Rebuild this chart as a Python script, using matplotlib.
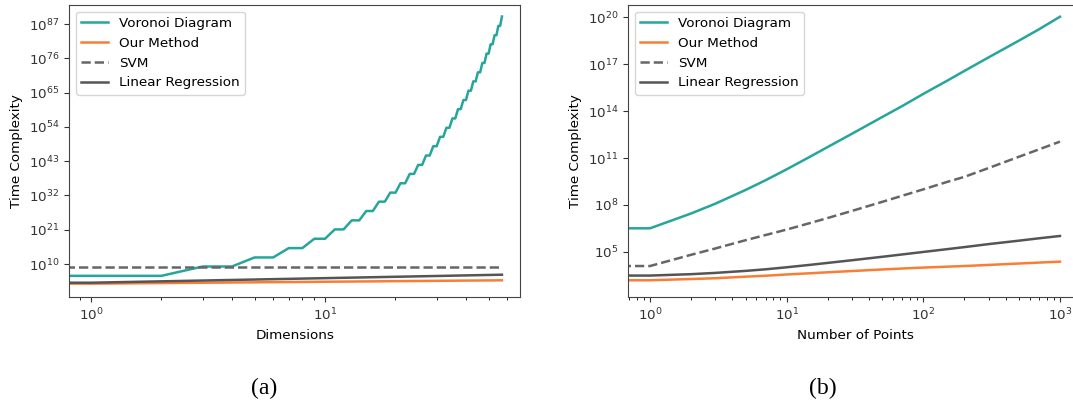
import matplotlib
matplotlib.use("Agg")
import matplotlib.pyplot as plt
from matplotlib.ticker import NullLocator

# ---------------- data (log10 of time complexity) ----------------
# Panel (a): x = dimensions
dims = list(range(0, 58))
voronoi_a_log = [6.2, 6.2, 6.2,
                 9.2, 9.2, 12.1, 12.1, 15.1, 15.1, 18.1, 18.1, 21.1, 21.1,
                 24.0, 24.0, 27.0, 27.0, 30.0, 30.0, 32.9, 32.9, 35.9, 35.9,
                 38.9, 38.9, 41.8, 41.8, 44.8, 44.8, 47.8, 47.8, 50.8, 50.8,
                 53.7, 53.7, 56.7, 56.7, 59.7, 59.7, 62.6, 62.6, 65.6, 65.6,
                 68.6, 68.6, 71.5, 71.5, 74.5, 74.5, 77.5, 77.5, 80.5, 80.5,
                 83.4, 83.4, 86.4, 86.4, 89.4]
dims_sparse = [0, 1, 2, 4, 8, 16, 32, 57]
ours_a_log = [3.7, 3.7, 3.88, 4.07, 4.25, 4.43, 4.62, 4.77]
svm_a_log = [9.04, 9.04, 9.04, 9.04, 9.04, 9.04, 9.04, 9.04]
linreg_a_log = [4.0, 4.0, 4.44, 4.88, 5.32, 5.76, 6.2, 6.57]

# Panel (b): x = number of points
points = [0, 1, 2, 3, 5, 7, 10, 15, 20, 30, 50, 70, 100, 150, 200, 300, 500, 700, 1000]
voronoi_b_log = [6.51, 6.51, 7.46, 8.08, 8.96, 9.58, 10.28, 11.11, 11.71, 12.55, 13.62,
                 14.32, 15.1, 15.95, 16.57, 17.43, 18.5, 19.22, 20.03]
ours_b_log = [3.19, 3.19, 3.27, 3.32, 3.42, 3.48, 3.56, 3.64, 3.7, 3.78, 3.88,
              3.94, 4.0, 4.06, 4.1, 4.17, 4.26, 4.32, 4.38]
svm_b_log = [4.1, 4.1, 4.82, 5.22, 5.75, 6.08, 6.43, 6.86, 7.17, 7.62, 8.2,
             8.59, 9.0, 9.48, 9.8, 10.36, 11.08, 11.55, 12.05]
linreg_b_log = [3.49, 3.49, 3.58, 3.66, 3.79, 3.89, 4.02, 4.18, 4.3, 4.47, 4.69,
                4.84, 5.0, 5.18, 5.31, 5.5, 5.72, 5.87, 6.02]

labels = ["Voronoi Diagram", "Our Method", "SVM", "Linear Regression"]
yticks_a = [10, 21, 32, 43, 54, 65, 76, 87]
yticks_b = [5, 8, 11, 14, 17, 20]

# ---------------- styling ----------------
C_TEAL = "#26a69a"
C_ORANGE = "#fb7d35"
C_SVM = "#666666"
C_LR = "#555555"
FS = 9.7
LW = 1.8

plt.rcParams["font.family"] = ["DejaVu Sans"]
plt.rcParams["font.size"] = FS

W, H = 1073, 405
fig = plt.figure(figsize=(W / 100, H / 100), dpi=100)


def px_axes(x0, x1, y0, y1):
    return fig.add_axes([x0 / W, 1 - y1 / H, (x1 - x0) / W, (y1 - y0) / H])


def p10(vals):
    return [10.0 ** v for v in vals]


ax1 = px_axes(69.3, 520, 5, 296.7)
ax2 = px_axes(628.3, 1081.7, 5, 296.7)

for ax in (ax1, ax2):
    ax.set_xscale("log")
    ax.set_yscale("log")

# panel (a)
ax1.plot(dims, p10(voronoi_a_log), color=C_TEAL, lw=LW, label=labels[0])
ax1.plot(dims_sparse, p10(ours_a_log), color=C_ORANGE, lw=LW, label=labels[1])
ax1.plot(dims_sparse, p10(svm_a_log), color=C_SVM, lw=LW, ls="--", label=labels[2])
ax1.plot(dims_sparse, p10(linreg_a_log), color=C_LR, lw=LW, label=labels[3])
ax1.set_xlim(10 ** -0.0927, 10 ** 1.833)
ax1.set_ylim(10 ** -0.49, 10 ** 93.1)
ax1.set_yticks(p10(yticks_a))
ax1.yaxis.set_minor_locator(NullLocator())
ax1.set_xlabel("Dimensions", fontsize=FS)
ax1.set_ylabel("Time Complexity", fontsize=FS)

# panel (b)
ax2.plot(points, p10(voronoi_b_log), color=C_TEAL, lw=LW, label=labels[0])
ax2.plot(points, p10(ours_b_log), color=C_ORANGE, lw=LW, label=labels[1])
ax2.plot(points, p10(svm_b_log), color=C_SVM, lw=LW, ls="--", label=labels[2])
ax2.plot(points, p10(linreg_b_log), color=C_LR, lw=LW, label=labels[3])
ax2.set_xlim(10 ** -0.159, 10 ** 3.159)
ax2.set_ylim(10 ** 2.14, 10 ** 20.78)
ax2.set_yticks(p10(yticks_b))
ax2.yaxis.set_minor_locator(NullLocator())
ax2.set_xlabel("Number of Points", fontsize=FS)
ax2.set_ylabel("Time Complexity", fontsize=FS)
ax2.spines["right"].set_visible(False)

for ax in (ax1, ax2):
    ax.tick_params(labelsize=FS, colors="#333333")
    for s in ax.spines.values():
        s.set_color("#444444")
    ax.legend(loc="upper left", fontsize=FS)

fig.text(264.5 / W, 1 - 388 / H, "(a)", ha="center", va="center",
         family=["Liberation Serif", "DejaVu Serif"], fontsize=17)
fig.text(823 / W, 1 - 388 / H, "(b)", ha="center", va="center",
         family=["Liberation Serif", "DejaVu Serif"], fontsize=17)

fig.savefig("out.png", dpi=100)
